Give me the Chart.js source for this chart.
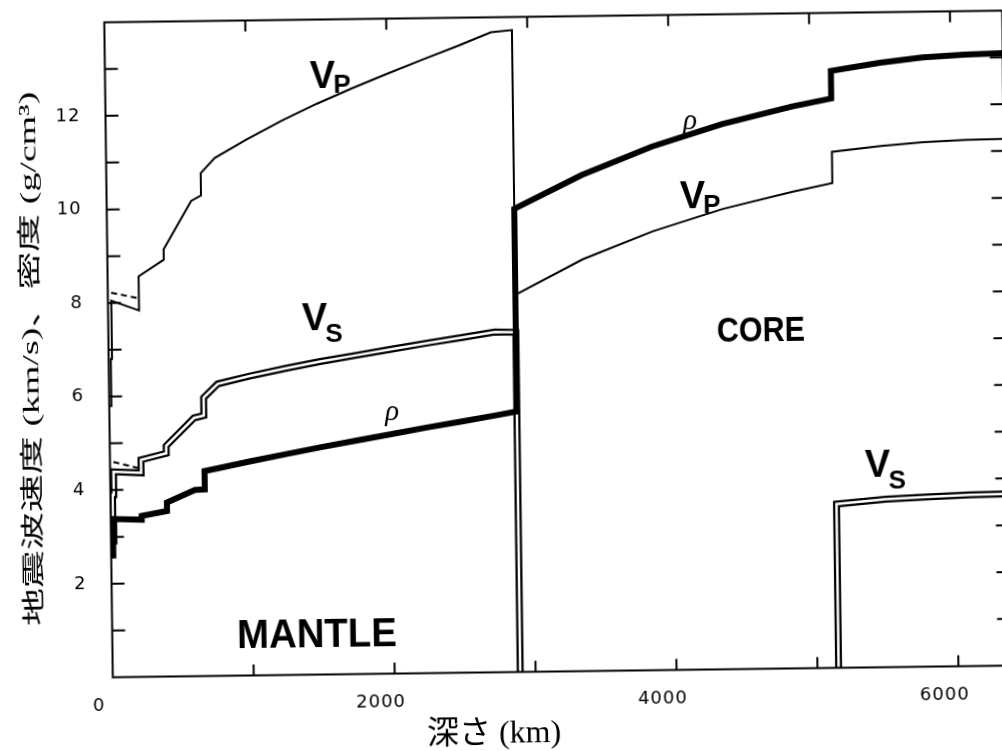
<!DOCTYPE html>
<html>
<head>
<meta charset="utf-8">
<script src="https://cdn.jsdelivr.net/npm/chart.js@4.4.1/dist/chart.umd.min.js"></script>
<style>
  html, body { margin: 0; padding: 0; background: #fff; overflow: hidden; width: 1002px; height: 751px; }
  #wrap { position: absolute; left: 0; top: 0; width: 1030px; height: 751px;
          transform-origin: 553.5px 344px; transform: rotate(-0.745deg); }
</style>
</head>
<body>
<div id="wrap"><canvas id="chart" width="1030" height="751"></canvas></div>
<script>
// depth (km) and values
const vpDepth = [0, 15, 15, 24, 24, 220, 220, 400, 400, 600, 670, 670, 771, 1000, 1250, 1500, 1750, 2000, 2250, 2500, 2741, 2891, 2891, 3371, 3871, 4371, 4871, 5150, 5150, 5500, 5800, 6100, 6371];
const vpValue = [5.8, 5.8, 6.8, 6.8, 8.05, 7.83, 8.56, 8.91, 9.13, 10.16, 10.27, 10.75, 11.07, 11.46, 11.85, 12.20, 12.52, 12.82, 13.11, 13.39, 13.68, 13.72, 8.06, 8.80, 9.38, 9.84, 10.19, 10.36, 11.03, 11.14, 11.21, 11.25, 11.26];

const vpDashDepth = [24, 220];
const vpDashValue = [8.22, 8.09];

const vsDepth = [0, 15, 15, 24, 24, 220, 220, 400, 400, 600, 670, 670, 771, 1000, 1250, 1500, 1750, 2000, 2250, 2500, 2741, 2891, 2891, 4000, 5150, 5150, 5500, 5800, 6100, 6371];
const vsValue = [3.2, 3.2, 3.9, 3.9, 4.39, 4.36, 4.64, 4.77, 4.93, 5.52, 5.57, 5.95, 6.24, 6.40, 6.55, 6.69, 6.81, 6.93, 7.05, 7.16, 7.27, 7.26, 0, null, 0, 3.50, 3.59, 3.63, 3.66, 3.67];

const vsDashDepth = [24, 220];
const vsDashValue = [4.60, 4.45];

const rhoDepth = [0, 15, 15, 24, 24, 220, 220, 400, 400, 600, 670, 670, 771, 1000, 1250, 1500, 1750, 2000, 2250, 2500, 2741, 2891, 2891, 3371, 3871, 4371, 4871, 5150, 5150, 5500, 5800, 6100, 6371];
const rhoValue = [2.6, 2.6, 2.9, 2.9, 3.38, 3.36, 3.44, 3.54, 3.72, 3.98, 3.99, 4.38, 4.44, 4.58, 4.72, 4.86, 4.99, 5.12, 5.25, 5.37, 5.49, 5.57, 9.90, 10.60, 11.19, 11.65, 12.01, 12.17, 12.76, 12.92, 13.02, 13.07, 13.09];

const xTickLabels = [0, 2000, 4000, 6000];
const yTickLabels = [2, 4, 6, 8, 10, 12];

const pts = (xs, ys) => xs.map((d, i) => ({ x: d, y: ys[i] }));

const line = (data, color, width, extra) => Object.assign({
  data: data, borderColor: color, borderWidth: width, pointRadius: 0,
  fill: false, tension: 0, spanGaps: false, borderJoinStyle: 'miter'
}, extra || {});

// text on the plot, frame and inward ticks
const decor = {
  id: 'decor',
  beforeDraw(chart) {
    chart.ctx.letterSpacing = '1px';
  },
  afterDraw(chart) {
    const { ctx, chartArea: a, scales: { x, y } } = chart;
    ctx.save();
    ctx.letterSpacing = '0px';
    ctx.strokeStyle = '#000';
    ctx.fillStyle = '#000';
    ctx.lineWidth = 2;
    ctx.strokeRect(a.left, a.top, a.right - a.left, a.bottom - a.top);
    ctx.beginPath();
    for (let v = 1000; v < x.max; v += 1000) {
      const px = x.getPixelForValue(v);
      ctx.moveTo(px, a.bottom); ctx.lineTo(px, a.bottom - 11);
      ctx.moveTo(px, a.top); ctx.lineTo(px, a.top + 11);
    }
    for (let v = 1; v < 14; v++) {
      const py = y.getPixelForValue(v);
      ctx.moveTo(a.left, py); ctx.lineTo(a.left + 13, py);
      ctx.moveTo(a.right, py); ctx.lineTo(a.right - 13, py);
    }
    ctx.stroke();

    const sans = '"Liberation Sans", Arial, sans-serif';
    const withSub = (dx, dy, sub, drop) => {
      const px = x.getPixelForValue(dx), py = y.getPixelForValue(dy);
      ctx.textAlign = 'left';
      ctx.textBaseline = 'alphabetic';
      ctx.font = 'bold 38px ' + sans;
      ctx.fillText('V', px, py);
      const w = ctx.measureText('V').width;
      ctx.font = 'bold 26px ' + sans;
      ctx.fillText(sub, px + w - 2, py + drop);
    };
    withSub(1453, 12.54, 'P', 5);
    withSub(1374, 7.37, 'S', 12);
    withSub(4067, 9.87, 'P', 5);
    withSub(5355, 4.07, 'S', 12);

    ctx.textAlign = 'center';
    ctx.textBaseline = 'middle';
    ctx.font = 'italic 29px "Liberation Serif", serif';
    ctx.fillText('ρ', x.getPixelForValue(2005), y.getPixelForValue(5.59));
    ctx.fillText('ρ', x.getPixelForValue(4146), y.getPixelForValue(11.71));

    // condensed block capitals
    const block = (txt, dx, dy, size, sx) => {
      ctx.save();
      ctx.translate(x.getPixelForValue(dx), y.getPixelForValue(dy));
      ctx.scale(sx, 1);
      ctx.font = 'bold ' + size + 'px ' + sans;
      ctx.fillText(txt, 0, 0);
      ctx.restore();
    };
    block('MANTLE', 1452, 0.83, 40, 0.96);
    block('CORE', 4630, 7.2, 35, 0.87);

    // axis titles
    ctx.font = '32px "Liberation Serif", "Noto Sans CJK JP", serif';
    ctx.fillText('深さ (km)', 489, 734);
    ctx.translate(32, 352);
    ctx.rotate(-Math.PI / 2);
    ctx.scale(1.65, 1);
    ctx.font = '23px "Liberation Serif", "Noto Sans CJK JP", serif';
    ctx.fillText('地震波速度 (km/s)、密度 (g/cm³)', 0, 0);
    ctx.restore();
  }
};

new Chart(document.getElementById('chart'), {
  type: 'line',
  data: {
    datasets: [
      line(pts(rhoDepth, rhoValue), '#000', 6, { order: 0 }),
      line(pts(vpDepth, vpValue), '#000', 2, { order: 1 }),
      line(pts(vpDashDepth, vpDashValue), '#000', 2, { order: 1, borderDash: [6, 4] }),
      line(pts(vsDashDepth, vsDashValue), '#000', 2, { order: 1, borderDash: [6, 4] }),
      line(pts(vsDepth, vsValue), '#fff', 2.5, { order: 2 }),
      line(pts(vsDepth, vsValue), '#000', 7, { order: 3 })
    ]
  },
  options: {
    responsive: false,
    animation: false,
    events: [],
    layout: { padding: { left: 0, right: 23.5, top: 16.5, bottom: 0 } },
    plugins: { legend: { display: false }, tooltip: { enabled: false } },
    scales: {
      x: {
        type: 'linear', min: 0, max: 6371,
        afterFit: s => { s.height = 79.5; s.paddingLeft = 0; s.paddingRight = 0; },
        afterBuildTicks: s => { s.ticks = xTickLabels.map(v => ({ value: v })); },
        grid: { display: false, drawTicks: false },
        border: { display: false },
        ticks: {
          padding: 18, labelOffset: -14, maxRotation: 0, autoSkip: false,
          callback: v => String(v),
          color: '#000', font: { family: '"DejaVu Sans", sans-serif', size: 18 }
        }
      },
      y: {
        type: 'linear', min: 0, max: 14,
        afterFit: s => { s.width = 108.5; s.paddingTop = 0; s.paddingBottom = 0; },
        afterBuildTicks: s => { s.ticks = yTickLabels.map(v => ({ value: v })); },
        grid: { display: false, drawTicks: false },
        border: { display: false },
        ticks: {
          padding: 25, color: '#000', autoSkip: false,
          callback: v => String(v),
          font: { family: '"DejaVu Sans", sans-serif', size: 18 }
        }
      }
    }
  },
  plugins: [decor]
});
</script>
</body>
</html>
